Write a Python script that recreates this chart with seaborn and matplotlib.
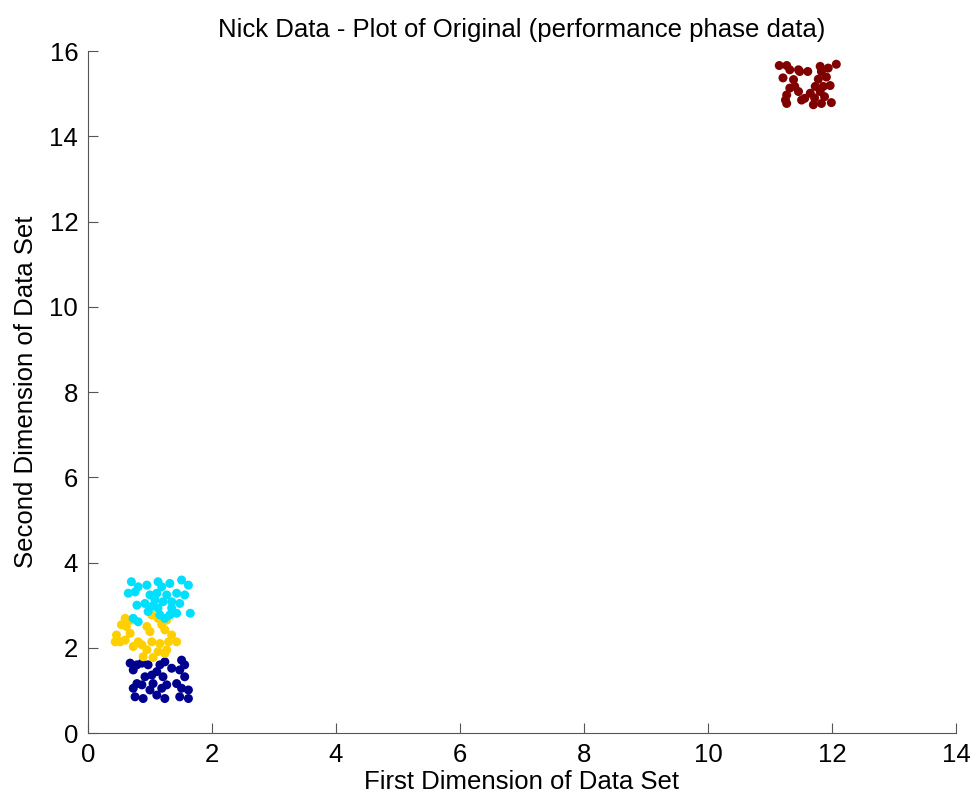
import pandas as pd
import seaborn as sns
import matplotlib.pyplot as plt

# cluster 1 (dark blue)
blue_x = [0.68, 0.79, 0.87, 0.97, 1.16, 1.24, 1.51, 1.56, 0.73, 1.11, 1.35, 1.48, 0.92, 1.03, 1.21, 1.56,
          0.79, 0.87, 1.05, 1.27, 1.43, 0.73, 1.00, 1.19, 1.51, 1.62, 0.76, 0.89, 1.11, 1.24, 1.48, 1.62]
blue_y = [1.64, 1.60, 1.64, 1.60, 1.60, 1.67, 1.71, 1.60, 1.48, 1.44, 1.52, 1.48, 1.32, 1.36, 1.32, 1.32,
          1.16, 1.13, 1.16, 1.13, 1.16, 1.05, 1.01, 1.05, 1.05, 1.01, 0.85, 0.81, 0.89, 0.81, 0.85, 0.81]

# cluster 2 (yellow)
yellow_x = [0.60, 0.70, 1.03, 1.13, 1.27, 0.54, 0.62, 0.95, 1.19, 1.24, 1.00, 0.68, 0.46, 1.35, 0.52,
            0.44, 0.60, 0.81, 0.87, 1.03, 1.16, 1.30, 1.43, 0.73, 0.95, 1.13, 1.24, 0.89, 1.05, 1.27]
yellow_y = [2.69, 2.65, 2.77, 2.69, 2.65, 2.54, 2.50, 2.50, 2.54, 2.42, 2.38, 2.34, 2.30, 2.30, 2.14,
            2.14, 2.18, 2.14, 2.07, 2.14, 2.10, 2.14, 2.14, 2.03, 1.95, 1.91, 1.87, 1.79, 1.77, 1.95]

# cluster 3 (cyan)
cyan_x = [0.70, 0.81, 0.95, 1.13, 1.19, 1.32, 1.51, 1.62, 0.65, 0.76, 1.00, 1.11, 1.27, 1.43, 1.56, 1.08,
          1.21, 1.35, 1.48, 0.92, 0.79, 1.03, 1.13, 1.35, 1.43, 1.65, 0.97, 1.16, 0.73, 0.81, 1.24, 1.32]
cyan_y = [3.55, 3.43, 3.47, 3.55, 3.43, 3.51, 3.59, 3.47, 3.28, 3.31, 3.24, 3.28, 3.24, 3.28, 3.24, 3.12,
          3.08, 3.08, 3.04, 3.04, 3.00, 2.97, 2.93, 2.93, 2.81, 2.81, 2.85, 2.77, 2.69, 2.61, 2.69, 2.77]

# cluster 4 (dark red)
red_x = [11.15, 11.27, 11.32, 11.46, 11.48, 11.61, 11.81, 11.83, 11.94, 12.07, 11.21, 11.38, 11.78, 11.91,
         11.32, 11.40, 11.73, 11.86, 11.97, 11.27, 11.46, 11.65, 11.81, 11.27, 11.51, 11.56, 11.70, 11.83,
         11.99, 11.25, 11.72, 11.88]
red_y = [15.66, 15.66, 15.56, 15.56, 15.52, 15.52, 15.64, 15.52, 15.60, 15.69, 15.37, 15.33, 15.34, 15.39,
         15.13, 15.17, 15.17, 15.17, 15.19, 14.97, 15.05, 15.01, 15.05, 14.77, 14.85, 14.89, 14.74, 14.77,
         14.79, 14.85, 14.90, 14.93]

cluster_colors = {"1": "#00008f", "2": "#ffcf00", "3": "#00dfff", "4": "#800000"}

df = pd.concat([
    pd.DataFrame({"x": blue_x, "y": blue_y, "c": "1"}),
    pd.DataFrame({"x": yellow_x, "y": yellow_y, "c": "2"}),
    pd.DataFrame({"x": cyan_x, "y": cyan_y, "c": "3"}),
    pd.DataFrame({"x": red_x, "y": red_y, "c": "4"}),
])

sns.set_style("white")
plt.rcParams['font.family'] = ['Liberation Sans', 'DejaVu Sans']
plt.rcParams['text.color'] = 'black'
plt.rcParams['axes.labelcolor'] = 'black'
plt.rcParams['xtick.color'] = 'black'
plt.rcParams['ytick.color'] = 'black'

fig = plt.figure(figsize=(9.72, 8.05), dpi=100)
ax = fig.add_axes([0.0905, 0.0894, 0.893, 0.8472])
sns.scatterplot(data=df, x="x", y="y", hue="c", palette=cluster_colors, s=42,
                edgecolor="none", legend=False, ax=ax)

ax.set_xlim(0, 14)
ax.set_ylim(0, 16)
ax.set_xticks(range(0, 15, 2))
ax.set_yticks(range(0, 17, 2))
ax.tick_params(bottom=True, left=True, direction="in", length=7, width=0.8,
               color="#555555", labelcolor="black", labelsize=18.5, pad=7)
for side in ["top", "right"]:
    ax.spines[side].set_visible(False)
for side in ["left", "bottom"]:
    ax.spines[side].set_color("#555555")
    ax.spines[side].set_linewidth(0.8)

ax.set_title("Nick Data - Plot of Original (performance phase data)", fontsize=18.5, pad=10)
ax.set_xlabel("First Dimension of Data Set", fontsize=18.5, labelpad=2)
ax.set_ylabel("Second Dimension of Data Set", fontsize=18.5, labelpad=8)

fig.savefig("out.png", dpi=100)
